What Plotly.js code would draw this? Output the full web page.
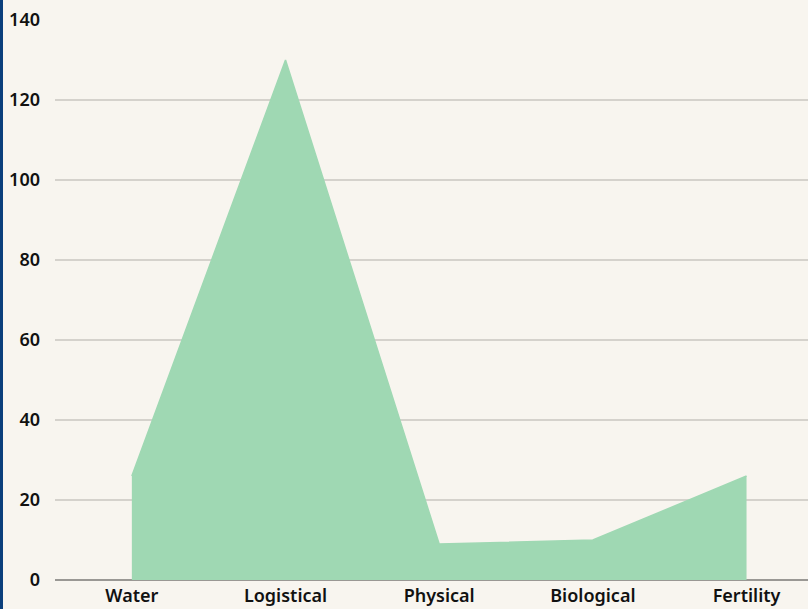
<!DOCTYPE html>
<html>
<head>
<meta charset="utf-8">
<script src="https://cdn.plot.ly/plotly-3.0.1.min.js"></script>
<style>
  html, body { margin: 0; padding: 0; background: #f8f5ef; }
  #wrap { width: 805px; height: 609px; border-left: 3px solid #0b3f7c; }
  #chart { width: 805px; height: 609px; }
</style>
</head>
<body>
<div id="wrap"><div id="chart"></div></div>
<script>
const categories = ["Water", "Logistical", "Physical", "Biological", "Fertility"];
const values = [26, 130, 9, 10, 26];
const yTicks = [0, 20, 40, 60, 80, 100, 120, 140];

const trace = {
  x: categories,
  y: values,
  type: "scatter",
  mode: "lines",
  fill: "tozeroy",
  fillcolor: "#9fd8b3",
  line: { color: "#9fd8b3", width: 1.5 },
  hoverinfo: "skip"
};

const layout = {
  width: 805,
  height: 609,
  margin: { l: 52, r: 0, t: 20, b: 29 },
  paper_bgcolor: "#f8f5ef",
  plot_bgcolor: "#f8f5ef",
  showlegend: false,
  font: { family: "Noto Sans, Open Sans, sans-serif", color: "#111", size: 18, weight: 600 },
  xaxis: {
    type: "category",
    range: [-0.5, 4.4],
    showgrid: false,
    zeroline: false,
    showline: false,
    ticks: "",
    ticklabelstandoff: 3,
    tickfont: { family: "Noto Sans, sans-serif", size: 18, color: "#111", weight: 600 },
    fixedrange: true
  },
  yaxis: {
    range: [0, 140],
    tickvals: yTicks,
    ticktext: yTicks.map(String),
    showgrid: true,
    gridcolor: "#d5d2cc",
    gridwidth: 1.5,
    zeroline: true,
    zerolinecolor: "#9a9894",
    zerolinewidth: 1.5,
    showline: false,
    ticks: "",
    ticklabelstandoff: 14,
    tickfont: { family: "Noto Sans, sans-serif", size: 18, color: "#111", weight: 600 },
    fixedrange: true
  }
};

Plotly.newPlot("chart", [trace], layout, { displayModeBar: false, staticPlot: true });
</script>
</body>
</html>
